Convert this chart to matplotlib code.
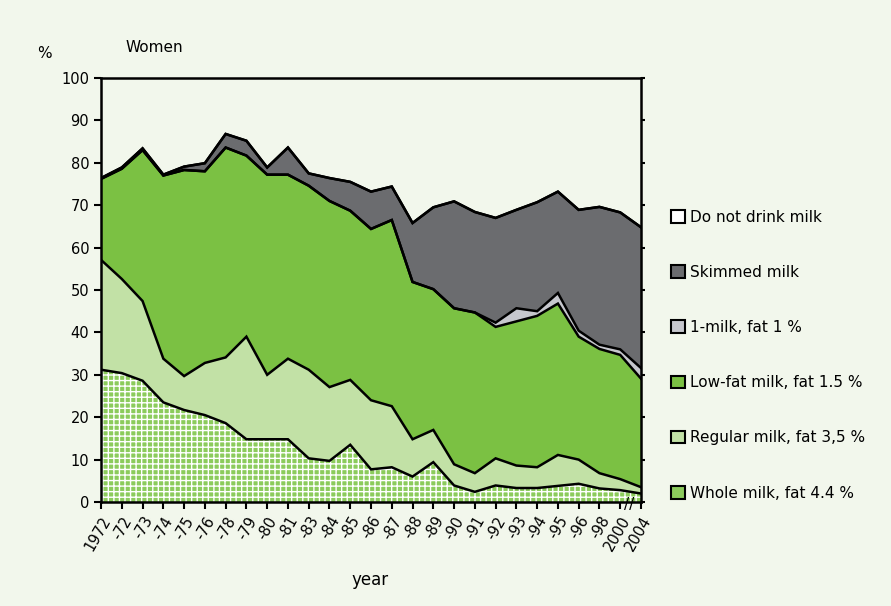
import numpy as np
import matplotlib
matplotlib.use("Agg")
import matplotlib.pyplot as plt
from matplotlib.patches import Patch

plt.rcParams['font.family'] = ['Liberation Sans Narrow', 'DejaVu Sans']
plt.rcParams['hatch.linewidth'] = 1.0

years = ["1972", "-72", "-73", "-74", "-75", "-76", "-78", "-79", "-80", "-81", "-83", "-84",
         "-85", "-86", "-87", "-88", "-89", "-90", "-91", "-92", "-93", "-94", "-95", "-96",
         "-98", "2000", "2004"]

whole = [31.2, 30.4, 28.6, 23.5, 21.7, 20.5, 18.6, 14.8, 14.8, 14.8, 10.3, 9.7, 13.5, 7.7,
         8.2, 6.0, 9.4, 3.9, 2.4, 3.9, 3.3, 3.3, 3.8, 4.3, 3.2, 2.8, 2.0]
regular = [25.9, 22.2, 18.8, 10.3, 8.0, 12.3, 15.5, 24.2, 15.2, 19.0, 20.9, 17.4, 15.3, 16.3,
           14.4, 8.8, 7.6, 5.0, 4.4, 6.4, 5.3, 4.9, 7.3, 5.7, 3.6, 2.6, 1.5]
lowfat = [19.1, 26.0, 35.6, 43.2, 48.6, 45.2, 49.5, 42.7, 47.2, 43.4, 43.4, 43.9, 39.9, 40.4,
          43.9, 37.1, 33.2, 36.8, 37.9, 31.0, 34.0, 35.7, 35.7, 29.0, 29.3, 29.3, 25.6]
onemilk = [0, 0, 0, 0, 0, 0, 0, 0, 0, 0, 0, 0, 0, 0,
           0, 0, 0, 0, 0, 1.0, 3.1, 1.1, 2.5, 1.4, 1.0, 1.3, 2.5]
skimmed = [0.2, 0.3, 0.4, 0.2, 0.8, 1.9, 3.2, 3.5, 1.7, 6.4, 2.9, 5.4, 6.8, 8.8,
           7.9, 13.9, 19.3, 25.2, 23.7, 24.7, 23.2, 25.7, 23.9, 28.5, 32.5, 32.3, 33.2]
no_milk = [0] * 27

labels = ["Whole milk, fat 4.4 %", "Regular milk, fat 3,5 %", "Low-fat milk, fat 1.5 %",
          "1-milk, fat 1 %", "Skimmed milk", "Do not drink milk"]
colors = ["#8ccb5c", "#c2e1a6", "#7bc143", "#c6c7cd", "#6b6c6f", "#ffffff"]

bg = "#f2f7ec"
fig = plt.figure(figsize=(8.91, 6.06), dpi=100, facecolor=bg)
ax = fig.add_axes([0.1134, 0.1716, 0.606, 0.6997], facecolor=bg)

x = np.arange(len(years))
layers = [whole, regular, lowfat, onemilk, skimmed, no_milk]
bottom = np.zeros(len(years))
for i, vals in enumerate(layers):
    top = bottom + np.array(vals)
    if i == 0:
        ax.fill_between(x, bottom, top, facecolor=colors[i], edgecolor="white",
                        hatch="+++", linewidth=0)
    else:
        ax.fill_between(x, bottom, top, facecolor=colors[i], linewidth=0)
    ax.plot(x, top, color="black", lw=1.8, solid_joinstyle="miter")
    bottom = top

ax.set_xlim(0, len(years) - 1)
ax.set_ylim(0, 100)
ax.set_yticks(range(0, 101, 10))
ax.set_xticks(x)
ax.set_xticklabels(years, rotation=60, ha="right", rotation_mode="anchor")
ax.tick_params(axis="both", direction="out", length=5, width=1.5, labelsize=10.5)
ax.tick_params(axis="y", which="both", right=True)
for t in ax.yaxis.get_ticklines()[1::2]:
    t.set_markersize(3)
for s in ax.spines.values():
    s.set_linewidth(1.8)

fig.text(37 / 891, 1 - 53 / 606, "%", fontsize=11, va="center")
fig.text(125 / 891, 1 - 47 / 606, "Women", fontsize=11, va="center")
fig.text(370 / 891, 1 - 580 / 606, "year", fontsize=12, ha="center", va="center")
ax.text(25.45, -0.5, "//", fontsize=11, ha="center", va="center", clip_on=False)

handles = [Patch(facecolor=c, edgecolor="black", lw=1.5) for c in colors]
leg = fig.legend(handles[::-1], labels[::-1], loc="center left",
                 bbox_to_anchor=(0.745, 0.414), frameon=False, fontsize=11,
                 handlelength=0.9, handleheight=0.9, handletextpad=0.3,
                 labelspacing=2.63, borderpad=0)

fig.savefig("out.png", dpi=100, facecolor=bg)
